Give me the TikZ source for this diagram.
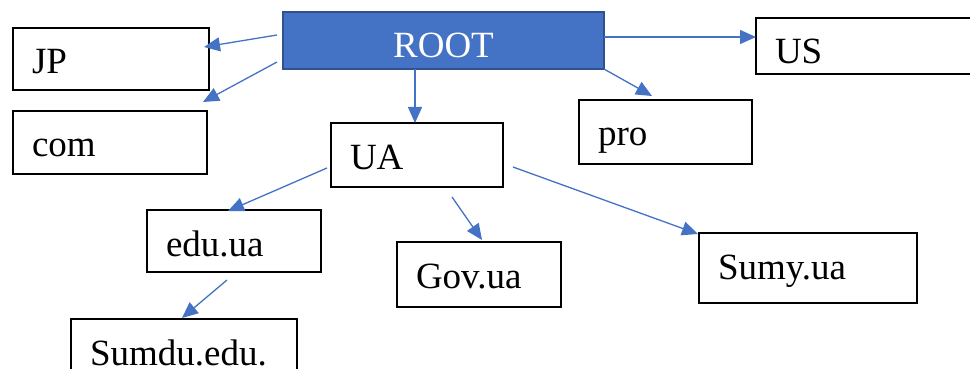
\documentclass[tikz,border=0pt]{standalone}
\usepackage{fontspec}
\setmainfont{Liberation Serif}
\usetikzlibrary{arrows.meta}
\definecolor{accent}{HTML}{4472C4}
\definecolor{accentdark}{HTML}{2F528F}
\tikzset{
  dom/.style={draw=black, line width=1.3pt, anchor=north west,
    inner xsep=19pt, inner ysep=0pt, outer sep=0pt, text height=46pt,
    align=left, font=\fontsize{37}{44}\selectfont},
  rootbox/.style={draw=accentdark, fill=accent, line width=2.4pt,
    anchor=north west, inner xsep=19pt, inner ysep=0pt, outer sep=0pt,
    text height=46pt, align=center, text=white,
    font=\fontsize{37}{44}\selectfont},
  link/.style={draw=accent, line width=1.3pt,
    -{Triangle[length=16pt,width=14pt]}}
}
\begin{document}
\begin{tikzpicture}[x=1pt, y=-1pt]
  \clip (0,0) rectangle (970,369);
  \fill[white] (0,0) rectangle (970,369);

  % domain boxes
  \node[rootbox, text width=283pt, text depth=11pt] (root) at (283,12) {ROOT};
  \node[dom, text width=158pt, text depth=16pt] (jp)  at (13,28)   {JP};
  \node[dom, text width=156pt, text depth=17pt] (com) at (13,111)  {com};
  \node[dom, text width=134pt, text depth=18pt] (ua)  at (331,123) {UA};
  \node[dom, text width=135pt, text depth=18pt] (pro) at (579,100) {pro};
  \node[dom, text width=200pt, text depth=10pt] (us)  at (756,18)  {US};
  \node[dom, text width=136pt, text depth=16pt] (edu) at (147,210) {edu.ua};
  \node[dom, text width=126pt, text depth=19pt] (gov) at (397,242) {Gov.ua};
  \node[dom, text width=180pt, text depth=24pt] (sumy) at (699,233) {Sumy.ua};
  \node[dom, text width=188pt, text depth=24pt] (sumdu) at (71,319) {Sumdu.edu.};

  % free ends of the connectors
  \coordinate (rjp)   at (277,35);  \coordinate (jpin)   at (204,47);
  \coordinate (rcom)  at (277,62);  \coordinate (comin)  at (203,102);
  \coordinate (rua)   at (415,69);  \coordinate (uain)   at (415,123);
  \coordinate (rus)   at (604,37);  \coordinate (usin)   at (756,37);
  \coordinate (rpro)  at (604,69);  \coordinate (proin)  at (652,96);
  \coordinate (uaedu) at (327,168); \coordinate (eduin)  at (228,211);
  \coordinate (uagov) at (452,197); \coordinate (govin)  at (482,240);
  \coordinate (uasu)  at (513,167); \coordinate (sumyin) at (698,234);
  \coordinate (edusd) at (227,280); \coordinate (sdin)   at (182,318);

  % connectors
  \draw[link] (rjp) -- (jpin);
  \draw[link] (rcom) -- (comin);
  \draw[link] (rua) -- (uain);
  \draw[link] (rus) -- (usin);
  \draw[link] (rpro) -- (proin);
  \draw[link] (uaedu) -- (eduin);
  \draw[link] (uagov) -- (govin);
  \draw[link] (uasu) -- (sumyin);
  \draw[link] (edusd) -- (sdin);
\end{tikzpicture}
\end{document}
